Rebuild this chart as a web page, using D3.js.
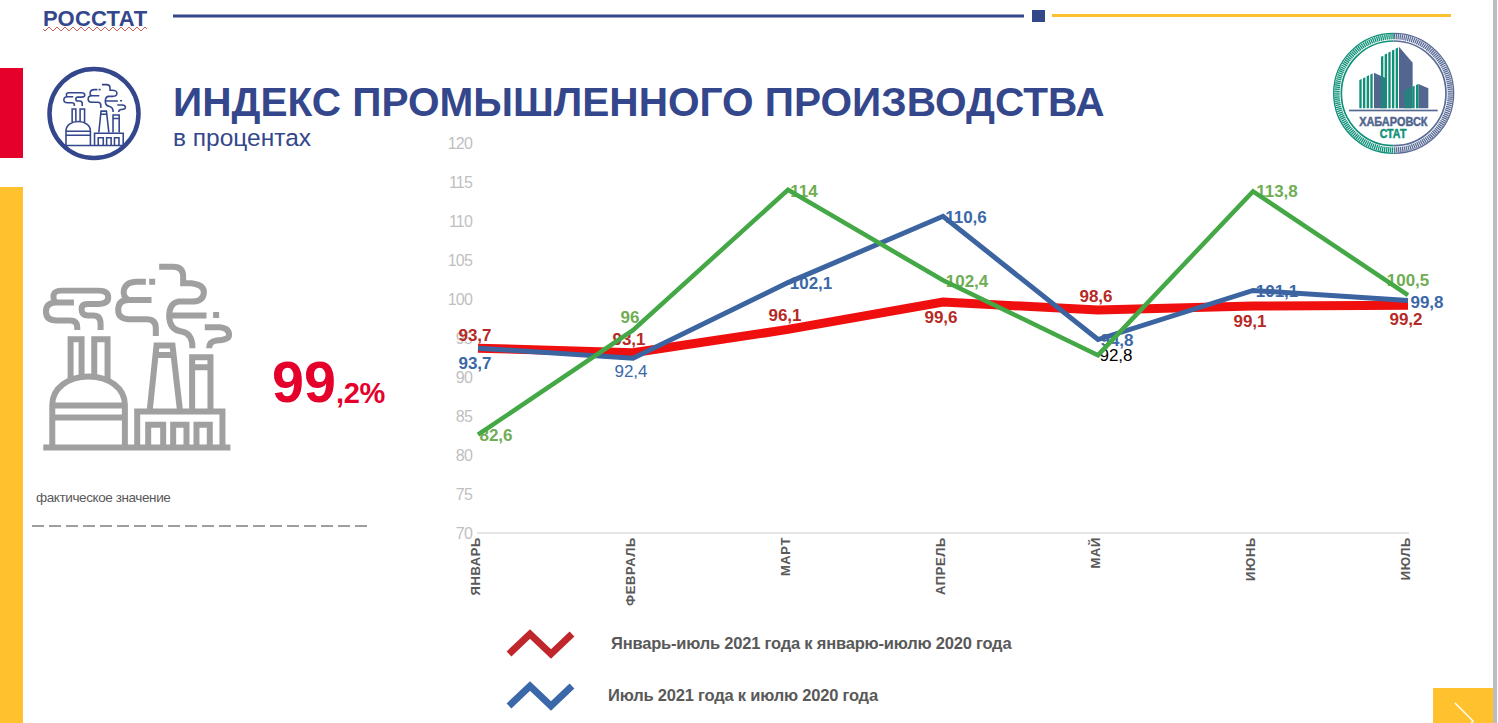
<!DOCTYPE html>
<html>
<head>
<meta charset="utf-8">
<script src="https://d3js.org/d3.v7.min.js"></script>
<style>
  html, body { margin: 0; padding: 0; background: #fff; overflow: hidden; }
  svg { display: block; font-family: "Liberation Sans", Arial, sans-serif; }
  .tick-y { fill: #bfbfbf; font-size: 16px; letter-spacing: -0.8px; }
  .tick-x { fill: #595959; font-size: 13px; font-weight: bold; letter-spacing: 0.6px; }
  .legend-text { fill: #595959; font-size: 16.5px; font-weight: bold; letter-spacing: -0.2px; }
  .icon { fill: none; stroke-linejoin: miter; }
</style>
</head>
<body>
<svg id="chart" width="1498" height="723"></svg>
<script>
var months = ["ЯНВАРЬ", "ФЕВРАЛЬ", "МАРТ", "АПРЕЛЬ", "МАЙ", "ИЮНЬ", "ИЮЛЬ"];
var yTicks = [70, 75, 80, 85, 90, 95, 100, 105, 110, 115, 120];

var cumulative = [93.7, 93.1, 96.1, 99.6, 98.6, 99.1, 99.2];
var july = [93.7, 92.4, 102.1, 110.6, 94.8, 101.1, 99.8];
var monthly = [82.6, 96, 114, 102.4, 92.8, 113.8, 100.5];

var legendNames = ["Январь-июль 2021 года к январю-июлю 2020 года", "Июль 2021 года к июлю 2020 года"];
var legendZig = [0, 1, 0, 1];

// label nudges, same order as the values
var cumulativeOffsets = [[-3, -7], [-4, -8], [-3, -8], [-2, 21], [-2, -8], [-3, 21], [-2, 20]];
var julyOffsets = [[-3, 21], [-2, 19], [23, 6], [23, 7], [19, 6], [24, 7], [19, 7]];
var monthlyOffsets = [[18, 6], [-3, -7], [16, 7], [24, 7], [18, 6], [24, 6], [0, -9]];

var svg = d3.select("#chart");

// page frame
svg.append("rect").attr("x", 0).attr("y", 68).attr("width", 23).attr("height", 90).attr("fill", "#e4002b");
svg.append("rect").attr("x", 0).attr("y", 187).attr("width", 23).attr("height", 536).attr("fill", "#ffc22e");
svg.append("rect").attr("x", 173).attr("y", 14.5).attr("width", 851).attr("height", 3).attr("fill", "#34478c");
svg.append("rect").attr("x", 1032).attr("y", 10).attr("width", 13).attr("height", 12).attr("fill", "#34478c");
svg.append("rect").attr("x", 1052).attr("y", 14).attr("width", 399).attr("height", 3).attr("fill", "#fcc02e");
svg.append("rect").attr("x", 1493).attr("y", 0).attr("width", 4).attr("height", 723).attr("fill", "#bdbdbd");

svg.append("text").attr("x", 43).attr("y", 26).attr("fill", "#34478c")
  .attr("font-size", 22).attr("font-weight", "bold").attr("letter-spacing", 0.2).text("РОССТАТ");
var wave = "M43 29";
d3.range(0, 26).forEach(function(i) { wave += "l2 " + (i % 2 ? -2 : 2) + "l2 " + (i % 2 ? 2 : -2); });
svg.append("path").attr("d", wave).attr("fill", "none").attr("stroke", "#c0392b").attr("stroke-width", 0.8);

svg.append("text").attr("x", 173).attr("y", 116).attr("fill", "#34478c")
  .attr("font-size", 40.6).attr("font-weight", "bold").text("ИНДЕКС ПРОМЫШЛЕННОГО ПРОИЗВОДСТВА");
svg.append("text").attr("x", 173).attr("y", 146).attr("fill", "#34478c")
  .attr("font-size", 24.5).text("в процентах");

// factory pictogram, drawn in a 1200 wide box
function factory(g, color, width) {
  var paths = [
    "M130 593H692",
    "M157 593V465C157 415 205 380 266 380C327 380 375 415 375 465V593",
    "M157 467H375M157 503H375",
    "M212 385V268H245V375M283 375V268H323V390",
    "M232 240V232Q232 212 210 212H170Q138 212 138 185Q138 158 170 158H222",
    "M165 158Q150 122 185 122H295Q325 122 325 142Q325 162 295 162H262Q245 162 245 178Q245 197 265 197H280Q302 197 302 222V240",
    "M468 258V235Q468 208 440 208H385Q355 205 355 180Q355 150 385 150H455",
    "M385 150Q368 140 372 120Q378 95 410 95H438M448 95H466",
    "M478 50H520Q550 50 550 80V100H575Q615 105 612 130Q610 155 575 155H535Q508 160 508 200Q510 240 545 245Q578 250 578 295",
    "M510 197H620M640 195H658",
    "M615 232H660Q688 235 688 255Q688 270 650 272Q628 275 628 295",
    "M450 478L470 287H518L540 478M465 315H525",
    "M577 478V322H632V478M577 352H632",
    "M412 593V485H668V593",
    "M445 593V525H490V593M520 593V525H560V593M590 593V525H630V593"
  ];
  g.selectAll("path").data(paths).enter().append("path")
    .attr("class", "icon")
    .attr("d", function(d) { return d; })
    .attr("stroke", color)
    .attr("stroke-width", width);
}

svg.append("circle").attr("cx", 94).attr("cy", 113.5).attr("r", 44.5)
  .attr("fill", "none").attr("stroke", "#34478c").attr("stroke-width", 4.5);
factory(svg.append("g").attr("transform", "translate(48.4,79) scale(0.112)"), "#34478c", 14);
factory(svg.append("g").attr("transform", "translate(0,250) scale(0.333)"), "#a0a0a0", 18);

// logo
var logo = svg.append("g").attr("transform", "translate(1300,0) scale(0.3333)");
logo.append("circle").attr("cx", 281).attr("cy", 280).attr("r", 156).attr("fill", "#fff");
[["M281 100A180 180 0 0 1 281 460", "#5a6c96"], ["M281 100A180 180 0 0 0 281 460", "#0f9178"]].forEach(function(a) {
  logo.append("path").attr("d", a[0]).attr("fill", "none").attr("stroke", a[1]).attr("stroke-width", 4);
});
[["M281 123A157 157 0 0 1 281 437", "#5a6c96"], ["M281 123A157 157 0 0 0 281 437", "#0f9178"]].forEach(function(a) {
  logo.append("path").attr("d", a[0]).attr("fill", "none").attr("stroke", a[1]).attr("stroke-width", 5);
});
[["M281 110A170 170 0 0 1 281 450", "#5a6c96"], ["M281 110A170 170 0 0 0 281 450", "#0f9178"]].forEach(function(a) {
  logo.append("path").attr("d", a[0]).attr("fill", "none").attr("stroke", a[1]).attr("stroke-width", 16).attr("stroke-dasharray", "4 2");
});
// each building: striped left part, solid right part
[[178, 222, 258, 240, 218, 235], [243, 297, 338, 170, 140, 188], [315, 355, 385, 270, 252, 265]].forEach(function(b) {
  logo.append("path").attr("d", "M" + b[1] + " " + b[4] + "L" + b[2] + " " + b[5] + "V325H" + b[1] + "Z").attr("fill", "#52668f");
  d3.range(b[0], b[1], 11).forEach(function(sx) {
    var top = b[3] + (b[4] - b[3]) * (sx - b[0]) / (b[1] - b[0]);
    logo.append("path").attr("d", "M" + sx + " " + top + "l7 -3V325h-7Z").attr("fill", "#0f9178");
  });
});
logo.append("rect").attr("x", 147).attr("y", 329).attr("width", 266).attr("height", 5).attr("fill", "#52668f");
logo.append("text").attr("x", 280).attr("y", 378).attr("text-anchor", "middle").attr("fill", "#52668f").attr("stroke", "#52668f").attr("stroke-width", 1.5)
  .attr("font-family", "Liberation Sans Narrow, Liberation Sans").attr("font-weight", "bold").attr("font-size", 39)
  .attr("textLength", 205).attr("lengthAdjust", "spacingAndGlyphs").text("ХАБАРОВСК");
logo.append("text").attr("x", 279).attr("y", 415).attr("text-anchor", "middle").attr("fill", "#0f9178").attr("stroke", "#0f9178").attr("stroke-width", 1.5)
  .attr("font-family", "Liberation Sans Narrow, Liberation Sans").attr("font-weight", "bold").attr("font-size", 38)
  .attr("textLength", 80).attr("lengthAdjust", "spacingAndGlyphs").text("СТАТ");

// value block
svg.append("text").attr("x", 272).attr("y", 402).attr("fill", "#e4002b")
  .attr("font-size", 57.5).attr("font-weight", "bold").text("99");
svg.append("text").attr("x", 336).attr("y", 403).attr("fill", "#e4002b")
  .attr("font-size", 29).attr("font-weight", "bold").attr("letter-spacing", -0.3).text(",2%");
svg.append("text").attr("x", 36).attr("y", 502).attr("fill", "#595959")
  .attr("font-size", 13.5).attr("letter-spacing", -0.4).text("фактическое значение");
svg.append("line").attr("x1", 32).attr("x2", 368).attr("y1", 526).attr("y2", 526)
  .attr("stroke", "#7f7f7f").attr("stroke-width", 1.5).attr("stroke-dasharray", "12 5");

// chart
var x = d3.scalePoint().domain(months).range([478, 1408]);
var y = d3.scaleLinear().domain([70, 120]).range([533, 143]);

var axisY = svg.append("g").attr("transform", "translate(478,0)")
  .call(d3.axisLeft(y).tickValues(yTicks).tickSize(0).tickPadding(6));
axisY.select(".domain").remove();
axisY.selectAll("text").attr("class", "tick-y").attr("font-family", null).attr("font-size", null).attr("fill", null);

svg.append("line").attr("x1", 477).attr("x2", 1409).attr("y1", 533).attr("y2", 533)
  .attr("stroke", "#e6e6e6").attr("stroke-width", 2);

svg.selectAll(".month").data(months).enter().append("text")
  .attr("class", "tick-x")
  .attr("text-anchor", "end")
  .attr("transform", function(d) { return "translate(" + (x(d) + 2) + ",537) rotate(-90)"; })
  .text(function(d) { return d; });

var line = d3.line().x(function(d, i) { return x(months[i]); }).y(function(d) { return y(d); });

function comma(v) { return String(v).replace(".", ","); }

function labels(values, offsets, color, weight, overrides) {
  svg.append("g").selectAll("text").data(values).enter().append("text")
    .attr("x", function(d, i) { return x(months[i]) + offsets[i][0]; })
    .attr("y", function(d, i) { return y(d) + offsets[i][1]; })
    .attr("text-anchor", "middle")
    .attr("font-size", 17)
    .attr("font-weight", function(d, i) { return overrides[i] ? "normal" : weight; })
    .attr("fill", function(d, i) { return overrides[i] || color; })
    .text(comma);
}

labels(cumulative, cumulativeOffsets, "#b62a26", "bold", {});
labels(july, julyOffsets, "#3b68a8", "bold", {1: "#3b68a8"});
labels(monthly, monthlyOffsets, "#70ad55", "bold", {4: "#000"});

function drawLine(values, color, width) {
  svg.append("path").attr("d", line(values)).attr("fill", "none")
    .attr("stroke", color).attr("stroke-width", width);
}
drawLine(cumulative, "#f00f0f", 9);
drawLine(july, "#3b64a0", 5);
drawLine(monthly, "#43a845", 4.5);

// legend
var legendColors = ["#c0272d", "#3b68a8"];
var legendX = d3.scalePoint().domain(d3.range(legendZig.length)).range([509, 572]);
var legendY = d3.scaleLinear().domain([0, 1]).range([10, -10]);
[644, 696].forEach(function(cy, k) {
  var l = d3.line().x(function(d, i) { return legendX(i); }).y(function(d) { return cy + legendY(d); });
  svg.append("path").attr("d", l(legendZig)).attr("fill", "none")
    .attr("stroke", legendColors[k]).attr("stroke-width", 7);
  svg.append("text").attr("class", "legend-text").attr("x", k ? 608 : 611).attr("y", cy + 5).text(legendNames[k]);
});

// next button
svg.append("rect").attr("x", 1433).attr("y", 688).attr("width", 60).attr("height", 35).attr("fill", "#ffc22e");
svg.append("path").attr("d", "M1455 703L1473 721L1464 733").attr("stroke", "#fff").attr("stroke-width", 1.5).attr("fill", "none");
</script>
</body>
</html>
